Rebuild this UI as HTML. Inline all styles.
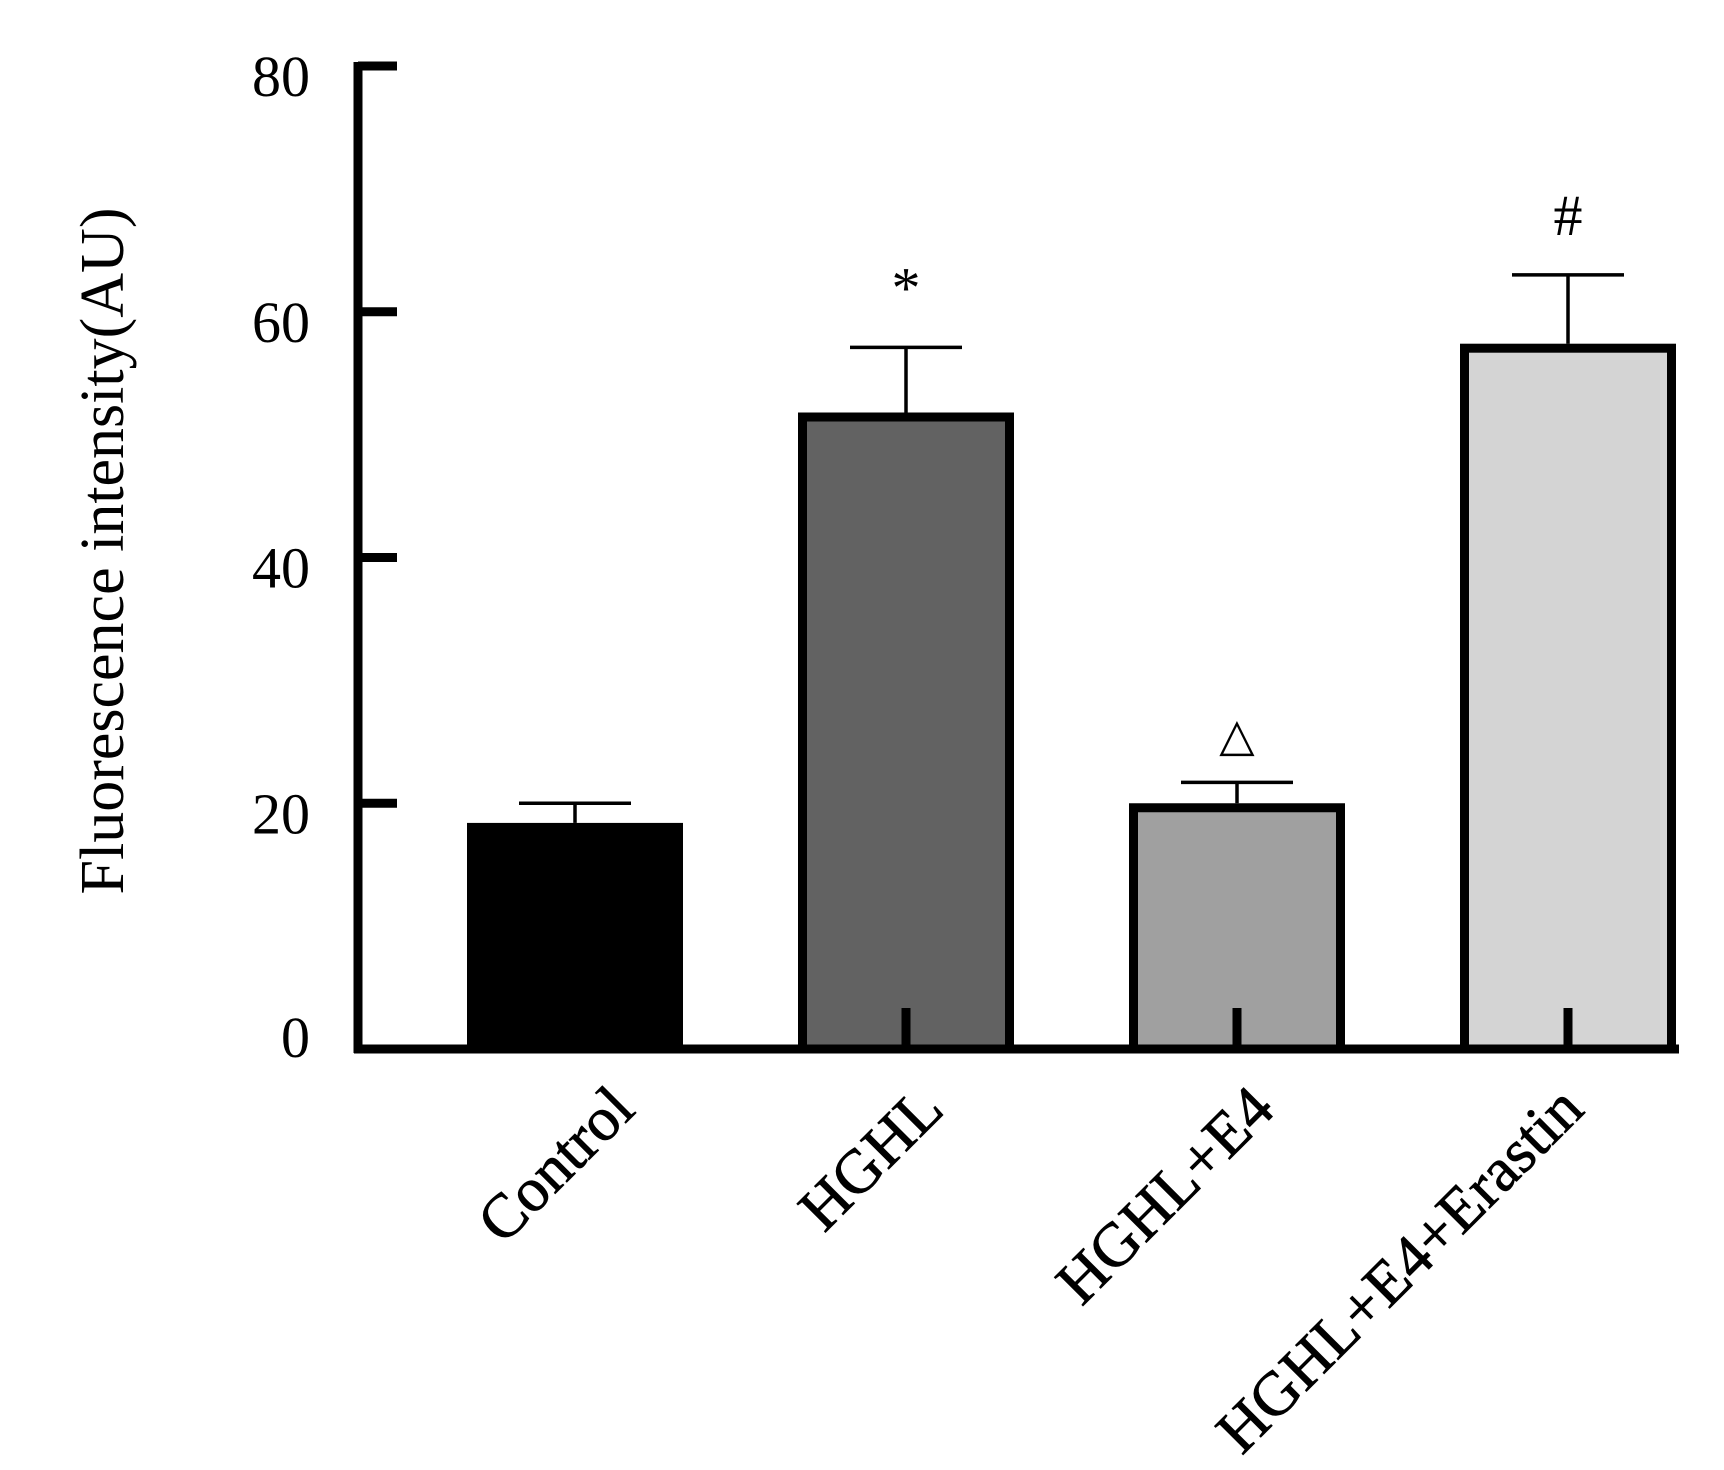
<!DOCTYPE html>
<html><head><meta charset="utf-8"><style>
html,body{margin:0;padding:0;background:#fff;}
svg{display:block;font-family:"Liberation Serif",serif;}
</style></head><body>
<svg id="chart" width="1724" height="1470" viewBox="0 0 1724 1470" xmlns="http://www.w3.org/2000/svg">
<rect width="1724" height="1470" fill="#fff"/>
<g id="axes"></g><g id="bars"></g><g id="labels"></g>
<text x="0" y="0" transform="translate(123,551) rotate(-90)" text-anchor="middle" font-size="62" fill="#000">Fluorescence intensity(AU)</text>
</svg>
<script>
const categories = ["Control","HGHL","HGHL+E4","HGHL+E4+Erastin"];
const means = [18.4, 51.8, 20.0, 57.4];
const errors = [1.6, 5.3, 1.7, 5.6];
const marks = ["", "*", "\u25B3", "#"];
const fills = ["#000000","#626262","#a0a0a0","#d4d4d4"];
const yTicks = [0,20,40,60,80];

const NS="http://www.w3.org/2000/svg";
const y0=1049, yTop=66, yMax=80;
function y(v){return y0-(v/yMax)*(y0-yTop);}
const x0=575, step=331, bw=216;
function x(i){return x0+i*step;}
function mk(tag,attrs,parent,txt){const e=document.createElementNS(NS,tag);for(const k in attrs)e.setAttribute(k,attrs[k]);if(txt!==undefined)e.textContent=txt;parent.appendChild(e);return e;}
const axes=document.getElementById('axes'), bars=document.getElementById('bars'), labels=document.getElementById('labels');

yTicks.forEach(t=>{
  const tk=mk('line',{x1:358,x2:397,y1:y(t),y2:y(t),stroke:'#000','stroke-width':9},axes);
  
  
  const tl=mk('text',{x:310,y:y(t)+(t===0?8:30),'text-anchor':'end','font-size':58,fill:'#000'},axes,String(t));
  
  
});

categories.forEach((c,i)=>{
  const cx=x(i), top=y(means[i]), et=y(means[i]+errors[i]);
  const g=mk('g',{},bars);
  
  
  const e1=mk('line',{x1:cx,x2:cx,y1:et,y2:top,stroke:'#000','stroke-width':3.5},g);
  
  
  const e2=mk('line',{x1:cx-56,x2:cx+56,y1:et,y2:et,stroke:'#000','stroke-width':3.5},g);
  
  
  const r=mk('rect',{x:cx-bw/2+4.5,y:top+4.5,width:bw-9,height:y0-top-4.5,fill:fills[i],stroke:'#000','stroke-width':9},g);
  
  
  const tk=mk('line',{x1:cx,x2:cx,y1:1008,y2:y0,stroke:'#000','stroke-width':9},g);
  
  
  if(marks[i]){
    const m=mk('text',{x:cx,y:et-(i===3?40:i===2?32:40),'text-anchor':'middle','font-size':i===2?46:58,fill:'#000'},g,marks[i]);
    
    
  }
  const lx=cx+(i===0?62:i===3?18:40), ly=1112;
  const l=mk('text',{x:0,y:0,transform:`translate(${lx},${ly}) rotate(-45)`,'text-anchor':'end','font-size':62,fill:'#000',stroke:'#000','stroke-width':0.8},labels,c);
  
  
});
const ya=mk('line',{x1:358,x2:358,y1:62,y2:1053,stroke:'#000','stroke-width':9},axes);


const xa=mk('line',{x1:354,x2:1679,y1:y0,y2:y0,stroke:'#000','stroke-width':9},axes);


</script>
</body></html>
